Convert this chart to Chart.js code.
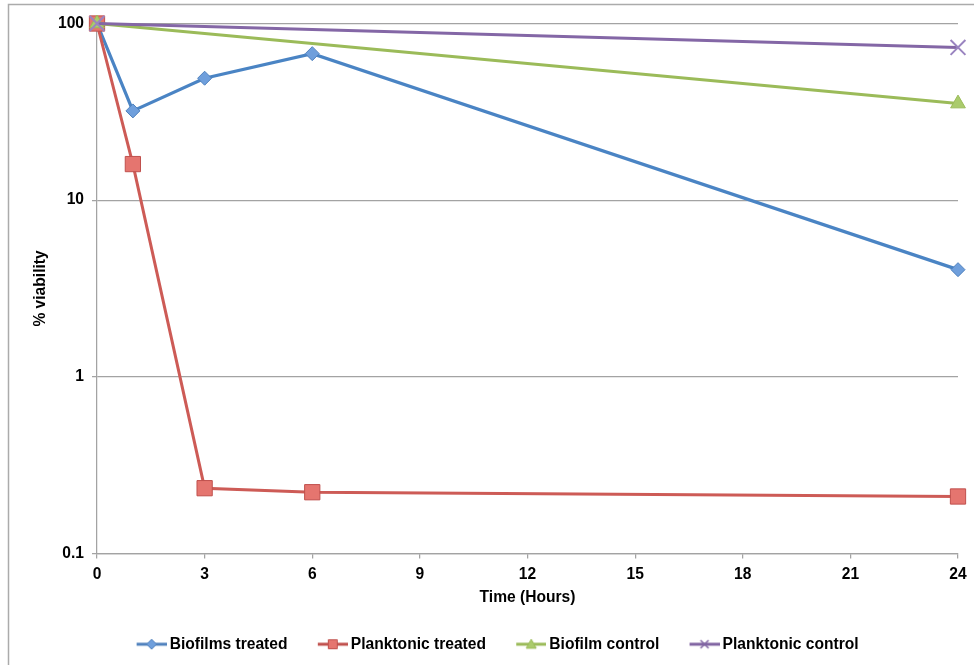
<!DOCTYPE html>
<html>
<head>
<meta charset="utf-8">
<script src="https://cdn.jsdelivr.net/npm/chart.js@4/dist/chart.umd.min.js"></script>
<style>
  html, body { margin: 0; padding: 0; background: #fff; }
  #wrap { width: 974px; height: 665px; position: relative; }
</style>
</head>
<body>
<div id="wrap"><canvas id="mycanvas"></canvas></div>
<script>
// data
var hours = [0, 1, 3, 6, 24];
var controlHours = [0, 24];
var biofilmsTreated = [100, 32, 49, 67.5, 4.04];
var planktonicTreated = [100, 16.0, 0.234, 0.222, 0.21];
var biofilmControl = [100, 35.2];
var planktonicControl = [100, 73.2];
var seriesNames = ["Biofilms treated", "Planktonic treated", "Biofilm control", "Planktonic control"];
var xTicks = [0, 3, 6, 9, 12, 15, 18, 21, 24];
var yTicks = [0.1, 1, 10, 100];

function pts(xs, ys) {
  var out = [];
  for (var i = 0; i < xs.length; i++) out.push({x: xs[i], y: ys[i]});
  return out;
}

var FONT = "'Liberation Sans', Arial, sans-serif";
var GRID = "#a3a3a3";

// legend icons: short line with the marker in the middle (drawn on the right part of a wider canvas)
function makeIcon(line, fill, shape) {
  var c = document.createElement("canvas");
  c.width = 61; c.height = 14;
  var g = c.getContext("2d");
  var x0 = 31, cx = 46, cy = 7;
  g.strokeStyle = line; g.lineWidth = 3;
  g.beginPath(); g.moveTo(x0, cy); g.lineTo(61, cy); g.stroke();
  g.fillStyle = fill; g.lineWidth = 1;
  g.beginPath();
  if (shape == "diamond") {
    g.moveTo(cx, cy - 5); g.lineTo(cx + 5, cy); g.lineTo(cx, cy + 5); g.lineTo(cx - 5, cy); g.closePath();
    g.fill(); g.stroke();
  } else if (shape == "square") {
    g.rect(cx - 4.5, cy - 4.5, 9, 9); g.fill(); g.stroke();
  } else if (shape == "triangle") {
    g.moveTo(cx, cy - 5); g.lineTo(cx + 5, cy + 4); g.lineTo(cx - 5, cy + 4); g.closePath();
    g.fill(); g.stroke();
  } else {
    g.lineWidth = 1.5;
    g.moveTo(cx - 4, cy - 4); g.lineTo(cx + 4, cy + 4);
    g.moveTo(cx + 4, cy - 4); g.lineTo(cx - 4, cy + 4);
    g.stroke();
  }
  return c;
}

var legendIcons = [
  makeIcon("#4f81bd", "#6f9fdc", "diamond"),
  makeIcon("#c0504d", "#e5756f", "square"),
  makeIcon("#9bbb59", "#aacb6c", "triangle"),
  makeIcon("#8064a2", "#9a84c0", "cross")
];

var frame = {
  id: "frame",
  beforeDraw: function(chart) {
    var ctx = chart.ctx;
    ctx.save();
    ctx.strokeStyle = "#ababab";
    ctx.lineWidth = 1.5;
    ctx.strokeRect(8.5, 4.5, 1000, 1000);
    ctx.restore();
  },
  afterLayout: function(chart) {
    chart.legend.left += 5.5;
    chart.legend.right += 5.5;
  }
};

Chart.defaults.font.family = FONT;
Chart.defaults.font.weight = "bold";
Chart.defaults.font.size = 15.6;
Chart.defaults.color = "#000";

var ctx = document.getElementById("mycanvas");
var chart = new Chart(ctx, {
  type: "line",
  data: {
    datasets: [
      {
        label: seriesNames[0],
        data: pts(hours, biofilmsTreated),
        borderColor: "#4a84c4", borderWidth: 3.25,
        pointStyle: "rectRot", pointRadius: 7, pointHoverRadius: 7,
        pointBackgroundColor: "#6f9fdc", pointBorderColor: "#4f81bd", pointBorderWidth: 1,
        clip: false,
        order: 4
      },
      {
        label: seriesNames[1],
        data: pts(hours, planktonicTreated),
        borderColor: "#cd5b56", borderWidth: 3,
        pointStyle: "rect", pointRadius: 10.8, pointHoverRadius: 10.8,
        pointBackgroundColor: "#e5756f", pointBorderColor: "#c0504d", pointBorderWidth: 1,
        clip: false,
        order: 3
      },
      {
        label: seriesNames[2],
        data: pts(controlHours, biofilmControl),
        borderColor: "#9bbb59", borderWidth: 3,
        pointStyle: "triangle", pointRadius: 8.5, pointHoverRadius: 8.5,
        pointBackgroundColor: "#aacb6c", pointBorderColor: "#9bbb59", pointBorderWidth: 1,
        clip: false,
        order: 2
      },
      {
        label: seriesNames[3],
        data: pts(controlHours, planktonicControl),
        borderColor: "#8467a6", borderWidth: 3,
        pointStyle: "crossRot", pointRadius: 10.5, pointHoverRadius: 10.5,
        pointBackgroundColor: "#9a84c0", pointBorderColor: "#9a84c0", pointBorderWidth: 2,
        clip: false,
        order: 1
      }
    ]
  },
  options: {
    responsive: true,
    maintainAspectRatio: false,
    animation: false,
    layout: { padding: { left: 0, right: 16, top: 23.5, bottom: 3 } },
    elements: { line: { tension: 0 } },
    scales: {
      x: {
        type: "linear",
        min: 0, max: 24,
        afterBuildTicks: function(scale) {
          scale.ticks = xTicks.map(function(v) { return {value: v}; });
        },
        afterFit: function(scale) { scale.height = 79; },
        ticks: { padding: 7, maxRotation: 0, autoSkip: false },
        grid: { drawOnChartArea: false, drawTicks: true, tickLength: 5, color: GRID, lineWidth: 1.25 },
        border: { color: GRID, width: 1.25 },
        title: { display: true, text: "Time (Hours)", padding: { top: 0, bottom: 25 } }
      },
      y: {
        type: "logarithmic",
        min: 0.1, max: 100,
        afterBuildTicks: function(scale) {
          scale.ticks = yTicks.map(function(v) { return {value: v}; });
        },
        afterFit: function(scale) { scale.width = 97; },
        ticks: {
          padding: 8,
          callback: function(v) { return String(v); }
        },
        grid: { drawTicks: true, tickLength: 5, color: GRID, lineWidth: 1.25 },
        border: { color: GRID, width: 1.25 },
        title: { display: true, text: "% viability", padding: { top: 31, bottom: 0 } }
      }
    },
    plugins: {
      tooltip: { enabled: false },
      legend: {
        position: "bottom",
        labels: {
          usePointStyle: true,
          pointStyleWidth: 51.5,
          padding: 4,
          font: { size: 15.6, weight: "bold" },
          color: "#000",
          sort: function(a, b) { return a.datasetIndex - b.datasetIndex; },
          generateLabels: function(chart) {
            var items = Chart.defaults.plugins.legend.labels.generateLabels(chart);
            items.forEach(function(it) { it.pointStyle = legendIcons[it.datasetIndex]; });
            return items;
          }
        }
      }
    }
  },
  plugins: [frame]
});
</script>
</body>
</html>
